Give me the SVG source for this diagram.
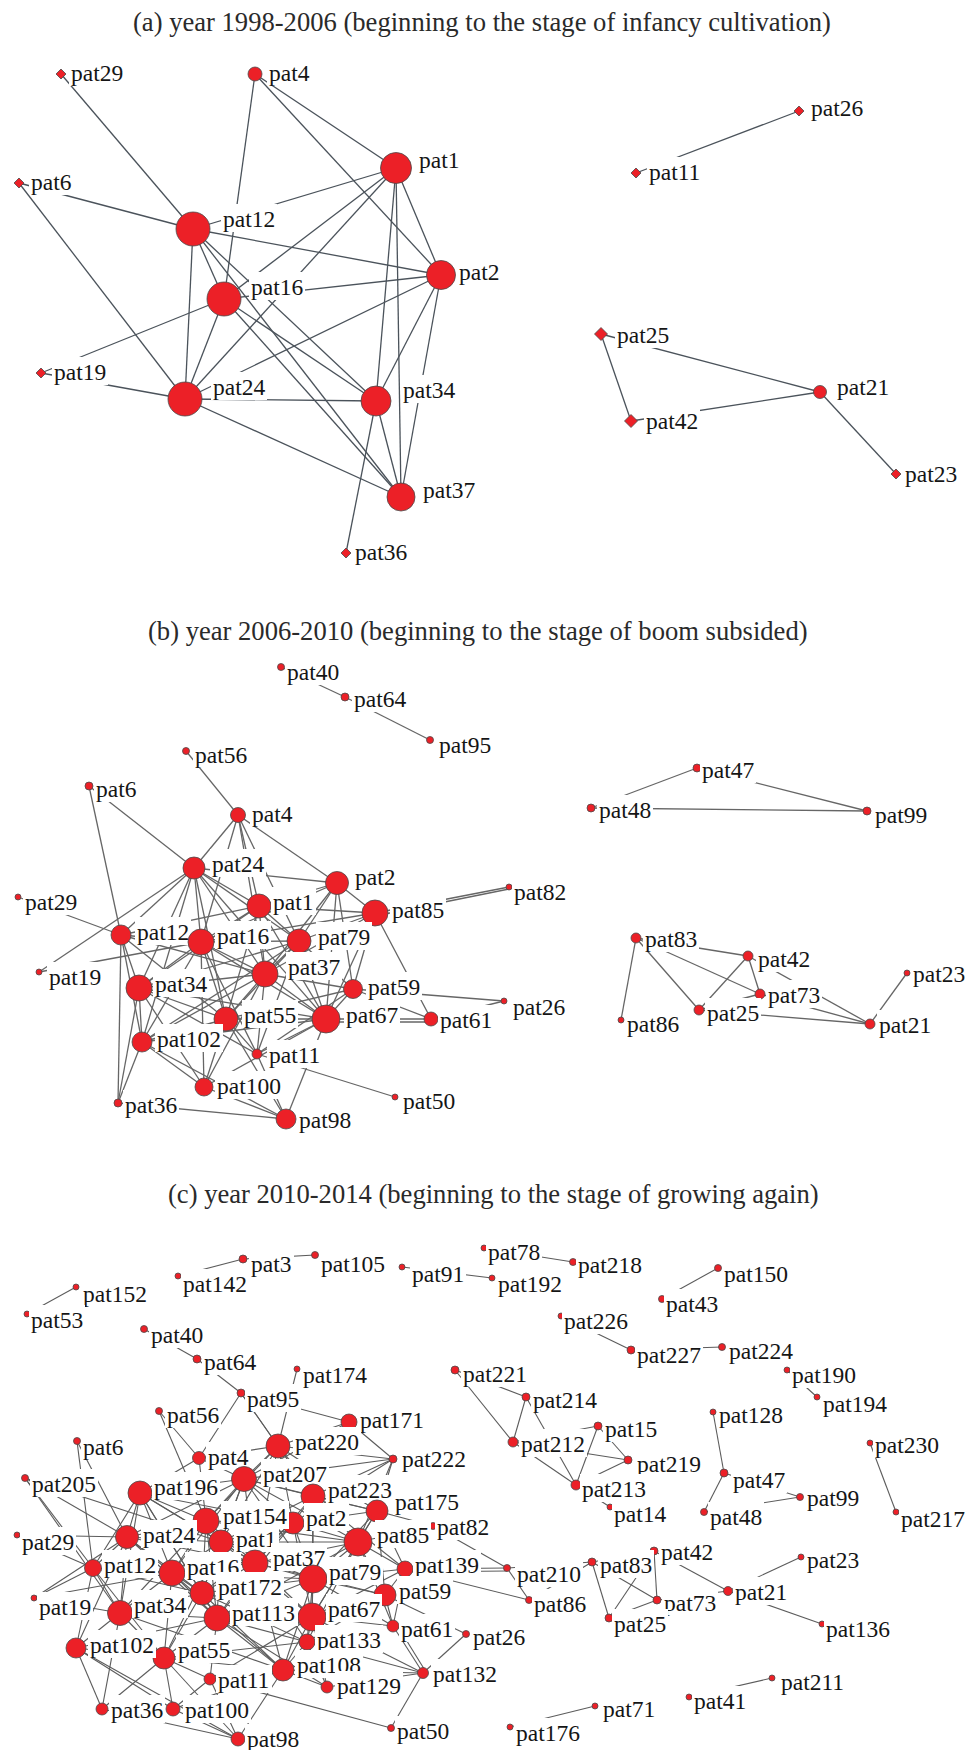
<svg xmlns="http://www.w3.org/2000/svg" xmlns:xlink="http://www.w3.org/1999/xlink" width="968" height="1750" viewBox="0 0 968 1750">
<style>
.n{fill:#ec2027;stroke:#4a4a4a;stroke-width:0.8}
.lb{fill:#fff}
.t{font-family:"Liberation Serif","Times New Roman",serif;font-size:23.5px;fill:#151515}
.ttl{font-family:"Liberation Serif","Times New Roman",serif;font-size:26.6px;fill:#2a2a2a}
.ea path{stroke:#4b535b;stroke-width:1.3;fill:none}
.eb path{stroke:#666;stroke-width:1.3;fill:none}
.ec path{stroke:#5c5c5c;stroke-width:1.1;fill:none}
</style>
<defs>
<polygon id="dm" points="0,-5 5,0 0,5 -5,0"/>
<polygon id="dm6" points="0,-6.5 6.5,0 0,6.5 -6.5,0"/>
</defs>
<rect width="968" height="1750" fill="#fff"/>
<g id="titles">
<text class="ttl" x="133" y="31">(a) year 1998-2006 (beginning to the stage of infancy cultivation)</text>
<text class="ttl" x="148" y="640">(b) year 2006-2010 (beginning to the stage of boom subsided)</text>
<text class="ttl" x="168" y="1203">(c) year 2010-2014 (beginning to the stage of growing again)</text>
</g>
<g id="connectors">
<g id="edges-a" class="ea">
<path d="M61 74L193 229"/><path d="M255 74L224 299"/><path d="M255 74L396 168"/><path d="M255 74L441 275"/>
<path d="M19 183L193 229"/><path d="M19 183L185 399"/><path d="M193 229L396 168"/><path d="M193 229L441 275"/>
<path d="M193 229L224 299"/><path d="M193 229L185 399"/><path d="M193 229L376 401"/><path d="M193 229L401 497"/>
<path d="M396 168L224 299"/><path d="M396 168L185 399"/><path d="M396 168L376 401"/><path d="M396 168L401 497"/>
<path d="M396 168L441 275"/><path d="M441 275L224 299"/><path d="M441 275L185 399"/><path d="M441 275L376 401"/>
<path d="M441 275L401 497"/><path d="M224 299L185 399"/><path d="M224 299L41 373"/><path d="M224 299L376 401"/>
<path d="M224 299L401 497"/><path d="M41 373L185 399"/><path d="M185 399L376 401"/><path d="M185 399L401 497"/>
<path d="M376 401L401 497"/><path d="M376 401L346 553"/>
<path d="M636 173L799 111"/><path d="M601 334L631 421"/><path d="M601 334L820 392"/><path d="M631 421L820 392"/><path d="M820 392L896 474"/>
</g>
<g id="edges-b" class="eb">
<path d="M281 667L345 697"/><path d="M345 697L430 740"/>
<path d="M697 768L591 808"/><path d="M697 768L867 811"/><path d="M591 808L867 811"/>
<path d="M636 938L621 1020"/><path d="M636 938L748 956"/><path d="M636 938L699 1010"/><path d="M636 938L760 994"/>
<path d="M748 956L699 1010"/><path d="M748 956L760 994"/><path d="M748 956L870 1024"/><path d="M760 994L870 1024"/>
<path d="M699 1010L760 994"/><path d="M699 1010L870 1024"/><path d="M870 1024L907 973"/>
<path d="M186 751L238 815"/><path d="M89 786L121 935"/><path d="M89 786L194 868"/>
<path d="M238 815L194 868"/><path d="M238 815L201 942"/><path d="M238 815L259 906"/><path d="M238 815L265 974"/><path d="M238 815L299 941"/><path d="M238 815L337 883"/>
<path d="M18 897L121 935"/><path d="M39 972L194 868"/><path d="M39 972L201 942"/>
<path d="M194 868L121 935"/><path d="M194 868L201 942"/><path d="M194 868L259 906"/><path d="M194 868L337 883"/><path d="M194 868L139 988"/><path d="M194 868L299 941"/><path d="M194 868L265 974"/><path d="M194 868L226 1019"/><path d="M194 868L142 1042"/><path d="M194 868L326 1019"/>
<path d="M337 883L259 906"/><path d="M337 883L375 913"/><path d="M337 883L299 941"/><path d="M337 883L201 942"/><path d="M337 883L265 974"/><path d="M337 883L353 989"/><path d="M337 883L326 1019"/>
<path d="M375 913L509 887"/><path d="M375 916L509 889"/><path d="M375 913L259 906"/><path d="M375 913L299 941"/><path d="M375 913L201 942"/><path d="M375 913L265 974"/><path d="M375 913L353 989"/><path d="M375 913L431 1019"/><path d="M375 913L326 1019"/>
<path d="M259 906L201 942"/><path d="M259 906L121 935"/><path d="M259 906L299 941"/><path d="M259 906L265 974"/><path d="M259 906L139 988"/><path d="M259 906L226 1019"/><path d="M259 906L326 1019"/>
<path d="M121 935L201 942"/><path d="M121 935L139 988"/><path d="M121 935L265 974"/><path d="M121 935L226 1019"/><path d="M121 935L142 1042"/><path d="M121 935L118 1103"/>
<path d="M201 942L299 941"/><path d="M201 942L265 974"/><path d="M201 942L139 988"/><path d="M201 942L226 1019"/><path d="M201 942L326 1019"/><path d="M201 942L142 1042"/><path d="M201 942L204 1087"/>
<path d="M299 941L265 974"/><path d="M299 941L353 989"/><path d="M299 941L326 1019"/><path d="M299 941L226 1019"/><path d="M299 941L139 988"/><path d="M299 941L142 1042"/>
<path d="M265 974L139 988"/><path d="M265 974L226 1019"/><path d="M265 974L326 1019"/><path d="M265 974L353 989"/><path d="M265 974L142 1042"/><path d="M265 974L204 1087"/><path d="M265 974L257 1054"/>
<path d="M139 988L226 1019"/><path d="M139 988L142 1042"/><path d="M139 988L118 1103"/><path d="M139 988L326 1019"/><path d="M139 988L204 1087"/>
<path d="M353 989L326 1019"/><path d="M353 989L431 1019"/><path d="M353 989L504 1001"/><path d="M353 989L226 1019"/>
<path d="M326 1019L431 1019"/><path d="M326 1022L431 1022"/><path d="M326 1019L226 1019"/><path d="M326 1019L257 1054"/><path d="M326 1019L286 1119"/><path d="M326 1019L204 1087"/><path d="M326 1019L142 1042"/>
<path d="M431 1019L504 1001"/><path d="M226 1019L142 1042"/><path d="M226 1019L204 1087"/><path d="M226 1019L257 1054"/><path d="M226 1019L286 1119"/>
<path d="M142 1042L118 1103"/><path d="M142 1042L204 1087"/><path d="M142 1042L286 1119"/><path d="M204 1087L286 1119"/><path d="M257 1054L286 1119"/><path d="M257 1054L395 1097"/><path d="M118 1103L286 1119"/>
<path d="M299 941L257 1054"/><path d="M353 989L257 1054"/><path d="M139 988L257 1054"/><path d="M201 942L257 1054"/>
</g>
<g id="edges-c" class="ec">
<path d="M76 1287L27 1314"/><path d="M178 1276L243 1259"/><path d="M243 1259L315 1255"/><path d="M402 1267L492 1278"/><path d="M484 1248L573 1262"/>
<path d="M718 1268L662 1299"/><path d="M561 1316L631 1350"/><path d="M631 1350L722 1347"/><path d="M787 1370L817 1397"/>
<path d="M455 1370L513 1442"/><path d="M455 1370L526 1397"/><path d="M526 1397L513 1442"/><path d="M526 1397L576 1485"/>
<path d="M513 1442L598 1426"/><path d="M513 1442L628 1460"/><path d="M513 1442L576 1485"/><path d="M598 1426L576 1485"/><path d="M598 1426L628 1460"/><path d="M576 1485L628 1460"/><path d="M576 1485L610 1507"/>
<path d="M713 1412L724 1473"/><path d="M724 1473L704 1512"/><path d="M724 1473L800 1497"/><path d="M704 1512L800 1497"/><path d="M870 1443L896 1512"/>
<path d="M654 1551L592 1562"/><path d="M654 1551L657 1600"/><path d="M654 1551L728 1591"/><path d="M654 1551L609 1618"/>
<path d="M592 1562L609 1618"/><path d="M592 1562L657 1600"/><path d="M592 1562L507 1568"/><path d="M592 1562L529 1600"/>
<path d="M609 1618L657 1600"/><path d="M657 1600L728 1591"/><path d="M728 1591L801 1557"/><path d="M728 1591L822 1624"/>
<path d="M689 1697L772 1678"/><path d="M510 1727L595 1706"/>
<path d="M144 1329L197 1359"/><path d="M197 1359L241 1393"/><path d="M241 1393L199 1458"/><path d="M241 1393L278 1446"/><path d="M241 1393L349 1422"/><path d="M241 1393L313 1496"/>
<path d="M297 1369L278 1446"/><path d="M349 1422L278 1446"/><path d="M349 1422L393 1459"/><path d="M349 1422L244 1479"/>
<path d="M159 1411L199 1458"/><path d="M159 1411L206 1521"/><path d="M77 1441L93 1568"/><path d="M77 1441L127 1537"/>
<path d="M25 1478L93 1568"/><path d="M25 1478L127 1537"/><path d="M25 1478L120 1613"/><path d="M17 1535L93 1568"/><path d="M25 1478L221 1542"/><path d="M17 1535L127 1537"/>
<path d="M34 1598L127 1537"/><path d="M34 1598L172 1573"/><path d="M34 1598L93 1568"/><path d="M34 1598L120 1613"/><path d="M93 1568L76 1648"/><path d="M93 1568L120 1613"/><path d="M127 1537L76 1648"/>
<path d="M76 1648L102 1709"/><path d="M76 1648L173 1709"/><path d="M76 1648L238 1739"/><path d="M102 1709L238 1739"/><path d="M102 1709L120 1613"/><path d="M102 1709L164 1658"/>
<path d="M173 1709L164 1658"/><path d="M173 1709L238 1739"/><path d="M173 1709L210 1679"/><path d="M164 1658L238 1739"/><path d="M283 1670L238 1739"/><path d="M210 1679L238 1739"/>
<path d="M391 1728L210 1679"/><path d="M391 1728L423 1673"/><path d="M423 1673L466 1634"/><path d="M423 1673L393 1626"/><path d="M426 1672L397 1625"/><path d="M423 1673L283 1670"/><path d="M423 1673L327 1687"/><path d="M423 1673L307 1642"/>
<path d="M385 1595L466 1634"/><path d="M385 1595L393 1626"/><path d="M405 1569L507 1568"/><path d="M405 1572L507 1571"/><path d="M405 1569L529 1600"/>
<path d="M433 1526L507 1568"/><path d="M507 1568L529 1600"/><path d="M377 1511L433 1526"/><path d="M358 1542L433 1526"/><path d="M393 1626L312 1617"/><path d="M393 1626L405 1569"/>
<path d="M278 1446L244 1479"/><path d="M278 1446L199 1458"/><path d="M278 1446L313 1496"/><path d="M278 1446L393 1459"/><path d="M278 1446L293 1523"/><path d="M278 1446L377 1511"/><path d="M278 1446L358 1542"/><path d="M278 1446L206 1521"/><path d="M278 1446L255 1563"/><path d="M278 1446L221 1542"/>
<path d="M393 1459L244 1479"/><path d="M393 1459L313 1496"/><path d="M393 1459L377 1511"/><path d="M393 1459L358 1542"/><path d="M393 1459L293 1523"/>
<path d="M199 1458L244 1479"/><path d="M199 1458L140 1493"/><path d="M199 1458L206 1521"/>
<path d="M244 1479L140 1493"/><path d="M244 1479L313 1496"/><path d="M244 1479L206 1521"/><path d="M244 1479L293 1523"/><path d="M244 1479L221 1542"/><path d="M244 1479L255 1563"/><path d="M244 1479L358 1542"/><path d="M244 1479L377 1511"/><path d="M244 1479L127 1537"/><path d="M244 1479L172 1573"/><path d="M244 1479L202 1593"/><path d="M244 1479L313 1579"/>
<path d="M140 1493L206 1521"/><path d="M140 1493L127 1537"/><path d="M140 1493L221 1542"/><path d="M140 1493L172 1573"/><path d="M140 1493L93 1568"/><path d="M140 1493L255 1563"/><path d="M140 1493L293 1523"/><path d="M140 1493L120 1613"/><path d="M140 1493L202 1593"/><path d="M140 1493L217 1618"/>
<path d="M313 1496L293 1523"/><path d="M313 1496L377 1511"/><path d="M313 1496L358 1542"/><path d="M313 1496L255 1563"/><path d="M313 1496L313 1579"/><path d="M313 1496L221 1542"/><path d="M313 1496L312 1617"/><path d="M313 1496L405 1569"/>
<path d="M377 1511L358 1542"/><path d="M377 1511L293 1523"/><path d="M377 1511L313 1579"/><path d="M377 1511L405 1569"/><path d="M377 1511L385 1595"/><path d="M377 1511L312 1617"/>
<path d="M206 1521L127 1537"/><path d="M206 1521L221 1542"/><path d="M206 1521L293 1523"/><path d="M206 1521L172 1573"/><path d="M206 1521L255 1563"/><path d="M206 1521L202 1593"/><path d="M206 1521L358 1542"/><path d="M206 1521L217 1618"/><path d="M206 1521L120 1613"/>
<path d="M293 1523L221 1542"/><path d="M293 1523L358 1542"/><path d="M293 1523L255 1563"/><path d="M293 1523L313 1579"/><path d="M293 1523L312 1617"/><path d="M293 1523L202 1593"/><path d="M293 1523L217 1618"/>
<path d="M127 1537L221 1542"/><path d="M127 1537L93 1568"/><path d="M127 1537L172 1573"/><path d="M127 1537L120 1613"/><path d="M127 1537L202 1593"/><path d="M127 1537L255 1563"/><path d="M127 1537L217 1618"/>
<path d="M221 1542L255 1563"/><path d="M221 1542L172 1573"/><path d="M221 1542L202 1593"/><path d="M221 1542L358 1542"/><path d="M221 1542L313 1579"/><path d="M221 1542L217 1618"/><path d="M221 1542L312 1617"/><path d="M221 1542L164 1658"/>
<path d="M358 1542L255 1563"/><path d="M358 1542L313 1579"/><path d="M358 1542L405 1569"/><path d="M358 1542L385 1595"/><path d="M358 1542L312 1617"/><path d="M358 1542L217 1618"/><path d="M358 1542L307 1642"/><path d="M358 1542L393 1626"/>
<path d="M255 1563L172 1573"/><path d="M255 1563L313 1579"/><path d="M255 1563L202 1593"/><path d="M255 1563L217 1618"/><path d="M255 1563L312 1617"/><path d="M255 1563L385 1595"/><path d="M255 1563L283 1670"/><path d="M255 1563L307 1642"/>
<path d="M93 1568L172 1573"/><path d="M93 1568L202 1593"/><path d="M93 1568L164 1658"/><path d="M172 1573L202 1593"/><path d="M172 1573L120 1613"/><path d="M172 1573L217 1618"/><path d="M172 1573L164 1658"/><path d="M172 1573L313 1579"/><path d="M172 1573L283 1670"/>
<path d="M313 1579L405 1569"/><path d="M313 1579L385 1595"/><path d="M313 1579L312 1617"/><path d="M313 1579L202 1593"/><path d="M313 1579L217 1618"/><path d="M313 1579L307 1642"/><path d="M313 1579L283 1670"/><path d="M313 1579L393 1626"/>
<path d="M405 1569L385 1595"/><path d="M405 1569L312 1617"/><path d="M202 1593L217 1618"/><path d="M202 1593L120 1613"/><path d="M202 1593L312 1617"/><path d="M202 1593L164 1658"/><path d="M202 1593L283 1670"/><path d="M202 1593L307 1642"/>
<path d="M385 1595L312 1617"/><path d="M385 1595L307 1642"/><path d="M120 1613L217 1618"/><path d="M120 1613L164 1658"/><path d="M120 1613L76 1648"/><path d="M120 1613L283 1670"/>
<path d="M217 1618L312 1617"/><path d="M217 1618L164 1658"/><path d="M217 1618L283 1670"/><path d="M217 1618L307 1642"/><path d="M217 1618L210 1679"/><path d="M217 1618L76 1648"/><path d="M217 1618L327 1687"/>
<path d="M312 1617L307 1642"/><path d="M312 1617L283 1670"/><path d="M312 1617L327 1687"/><path d="M312 1617L210 1679"/><path d="M312 1617L423 1673"/><path d="M307 1642L283 1670"/><path d="M307 1642L327 1687"/><path d="M76 1648L164 1658"/>
<path d="M164 1658L283 1670"/><path d="M164 1658L210 1679"/><path d="M164 1658L307 1642"/><path d="M283 1670L210 1679"/><path d="M283 1670L327 1687"/><path d="M283 1670L173 1709"/>
</g>
</g>
<g id="nodes-a">
<g id="a-pat29"><use href="#dm" x="61" y="74" class="n"/><rect class="lb" x="69" y="58" width="56" height="28"/><text class="t" x="71" y="81">pat29</text></g>
<g id="a-pat4"><circle class="n" cx="255" cy="74" r="7"/><rect class="lb" x="267" y="58" width="45" height="28"/><text class="t" x="269" y="81">pat4</text></g>
<g id="a-pat26"><use href="#dm" x="799" y="111" class="n"/><rect class="lb" x="809" y="93" width="56" height="28"/><text class="t" x="811" y="116">pat26</text></g>
<g id="a-pat1"><circle class="n" cx="396" cy="168" r="15.5"/><rect class="lb" x="417" y="145" width="45" height="28"/><text class="t" x="419" y="168">pat1</text></g>
<g id="a-pat11"><use href="#dm" x="636" y="173" class="n"/><rect class="lb" x="647" y="157" width="56" height="28"/><text class="t" x="649" y="180">pat11</text></g>
<g id="a-pat6"><use href="#dm" x="19" y="183" class="n"/><rect class="lb" x="29" y="167" width="45" height="28"/><text class="t" x="31" y="190">pat6</text></g>
<g id="a-pat12"><circle class="n" cx="193" cy="229" r="17"/><rect class="lb" x="221" y="204" width="56" height="28"/><text class="t" x="223" y="227">pat12</text></g>
<g id="a-pat2"><circle class="n" cx="441" cy="275" r="14.5"/><rect class="lb" x="457" y="257" width="45" height="28"/><text class="t" x="459" y="280">pat2</text></g>
<g id="a-pat16"><circle class="n" cx="224" cy="299" r="17"/><rect class="lb" x="249" y="272" width="56" height="28"/><text class="t" x="251" y="295">pat16</text></g>
<g id="a-pat25"><use href="#dm6" x="601" y="334" class="n"/><rect class="lb" x="615" y="320" width="56" height="28"/><text class="t" x="617" y="343">pat25</text></g>
<g id="a-pat19"><use href="#dm" x="41" y="373" class="n"/><rect class="lb" x="52" y="357" width="56" height="28"/><text class="t" x="54" y="380">pat19</text></g>
<g id="a-pat21"><circle class="n" cx="820" cy="392" r="6.5"/><rect class="lb" x="835" y="372" width="56" height="28"/><text class="t" x="837" y="395">pat21</text></g>
<g id="a-pat24"><circle class="n" cx="185" cy="399" r="17"/><rect class="lb" x="211" y="372" width="56" height="28"/><text class="t" x="213" y="395">pat24</text></g>
<g id="a-pat34"><circle class="n" cx="376" cy="401" r="15"/><rect class="lb" x="401" y="375" width="56" height="28"/><text class="t" x="403" y="398">pat34</text></g>
<g id="a-pat42"><use href="#dm6" x="631" y="421" class="n"/><rect class="lb" x="644" y="406" width="56" height="28"/><text class="t" x="646" y="429">pat42</text></g>
<g id="a-pat23"><use href="#dm" x="896" y="474" class="n"/><rect class="lb" x="903" y="459" width="56" height="28"/><text class="t" x="905" y="482">pat23</text></g>
<g id="a-pat37"><circle class="n" cx="401" cy="497" r="14"/><rect class="lb" x="421" y="475" width="56" height="28"/><text class="t" x="423" y="498">pat37</text></g>
<g id="a-pat36"><use href="#dm" x="346" y="553" class="n"/><rect class="lb" x="353" y="537" width="56" height="28"/><text class="t" x="355" y="560">pat36</text></g>
</g>
<g id="nodes-b">
<g id="b-pat40"><circle class="n" cx="281" cy="667" r="3.5"/><rect class="lb" x="285" y="657" width="56" height="28"/><text class="t" x="287" y="680">pat40</text></g>
<g id="b-pat64"><circle class="n" cx="345" cy="697" r="4"/><rect class="lb" x="352" y="684" width="56" height="28"/><text class="t" x="354" y="707">pat64</text></g>
<g id="b-pat95"><circle class="n" cx="430" cy="740" r="3.5"/><rect class="lb" x="437" y="730" width="56" height="28"/><text class="t" x="439" y="753">pat95</text></g>
<g id="b-pat56"><circle class="n" cx="186" cy="751" r="3.5"/><rect class="lb" x="193" y="740" width="56" height="28"/><text class="t" x="195" y="763">pat56</text></g>
<g id="b-pat47"><circle class="n" cx="697" cy="768" r="4"/><rect class="lb" x="700" y="755" width="56" height="28"/><text class="t" x="702" y="778">pat47</text></g>
<g id="b-pat6"><circle class="n" cx="89" cy="786" r="4"/><rect class="lb" x="94" y="774" width="45" height="28"/><text class="t" x="96" y="797">pat6</text></g>
<g id="b-pat48"><circle class="n" cx="591" cy="808" r="4"/><rect class="lb" x="597" y="795" width="56" height="28"/><text class="t" x="599" y="818">pat48</text></g>
<g id="b-pat99"><circle class="n" cx="867" cy="811" r="4"/><rect class="lb" x="873" y="800" width="56" height="28"/><text class="t" x="875" y="823">pat99</text></g>
<g id="b-pat4"><circle class="n" cx="238" cy="815" r="7.5"/><rect class="lb" x="250" y="799" width="45" height="28"/><text class="t" x="252" y="822">pat4</text></g>
<g id="b-pat24"><circle class="n" cx="194" cy="868" r="11"/><rect class="lb" x="210" y="849" width="56" height="28"/><text class="t" x="212" y="872">pat24</text></g>
<g id="b-pat2"><circle class="n" cx="337" cy="883" r="11.5"/><rect class="lb" x="353" y="862" width="45" height="28"/><text class="t" x="355" y="885">pat2</text></g>
<g id="b-pat82"><circle class="n" cx="509" cy="887" r="3"/><rect class="lb" x="512" y="877" width="56" height="28"/><text class="t" x="514" y="900">pat82</text></g>
<g id="b-pat29"><circle class="n" cx="18" cy="897" r="3"/><rect class="lb" x="23" y="887" width="56" height="28"/><text class="t" x="25" y="910">pat29</text></g>
<g id="b-pat1"><circle class="n" cx="259" cy="906" r="12"/><rect class="lb" x="271" y="887" width="45" height="28"/><text class="t" x="273" y="910">pat1</text></g>
<g id="b-pat85"><circle class="n" cx="375" cy="913" r="13"/><rect class="lb" x="390" y="895" width="56" height="28"/><text class="t" x="392" y="918">pat85</text></g>
<g id="b-pat12"><circle class="n" cx="121" cy="935" r="10"/><rect class="lb" x="135" y="917" width="56" height="28"/><text class="t" x="137" y="940">pat12</text></g>
<g id="b-pat83"><circle class="n" cx="636" cy="938" r="5"/><rect class="lb" x="643" y="924" width="56" height="28"/><text class="t" x="645" y="947">pat83</text></g>
<g id="b-pat79"><circle class="n" cx="299" cy="941" r="12"/><rect class="lb" x="316" y="922" width="56" height="28"/><text class="t" x="318" y="945">pat79</text></g>
<g id="b-pat16"><circle class="n" cx="201" cy="942" r="13"/><rect class="lb" x="215" y="921" width="56" height="28"/><text class="t" x="217" y="944">pat16</text></g>
<g id="b-pat42"><circle class="n" cx="748" cy="956" r="5"/><rect class="lb" x="756" y="944" width="56" height="28"/><text class="t" x="758" y="967">pat42</text></g>
<g id="b-pat19"><circle class="n" cx="39" cy="972" r="3"/><rect class="lb" x="47" y="962" width="56" height="28"/><text class="t" x="49" y="985">pat19</text></g>
<g id="b-pat23"><circle class="n" cx="907" cy="973" r="3"/><rect class="lb" x="911" y="959" width="56" height="28"/><text class="t" x="913" y="982">pat23</text></g>
<g id="b-pat37"><circle class="n" cx="265" cy="974" r="13"/><rect class="lb" x="286" y="952" width="56" height="28"/><text class="t" x="288" y="975">pat37</text></g>
<g id="b-pat34"><circle class="n" cx="139" cy="988" r="13"/><rect class="lb" x="153" y="969" width="56" height="28"/><text class="t" x="155" y="992">pat34</text></g>
<g id="b-pat59"><circle class="n" cx="353" cy="989" r="9.5"/><rect class="lb" x="366" y="972" width="56" height="28"/><text class="t" x="368" y="995">pat59</text></g>
<g id="b-pat73"><circle class="n" cx="760" cy="994" r="5"/><rect class="lb" x="766" y="980" width="56" height="28"/><text class="t" x="768" y="1003">pat73</text></g>
<g id="b-pat26"><circle class="n" cx="504" cy="1001" r="3"/><rect class="lb" x="511" y="992" width="56" height="28"/><text class="t" x="513" y="1015">pat26</text></g>
<g id="b-pat25"><circle class="n" cx="699" cy="1010" r="5"/><rect class="lb" x="705" y="998" width="56" height="28"/><text class="t" x="707" y="1021">pat25</text></g>
<g id="b-pat55"><circle class="n" cx="226" cy="1019" r="12"/><rect class="lb" x="242" y="1000" width="56" height="28"/><text class="t" x="244" y="1023">pat55</text></g>
<g id="b-pat67"><circle class="n" cx="326" cy="1019" r="14"/><rect class="lb" x="344" y="1000" width="56" height="28"/><text class="t" x="346" y="1023">pat67</text></g>
<g id="b-pat61"><circle class="n" cx="431" cy="1019" r="7"/><rect class="lb" x="438" y="1005" width="56" height="28"/><text class="t" x="440" y="1028">pat61</text></g>
<g id="b-pat86"><circle class="n" cx="621" cy="1020" r="3"/><rect class="lb" x="625" y="1009" width="56" height="28"/><text class="t" x="627" y="1032">pat86</text></g>
<g id="b-pat21"><circle class="n" cx="870" cy="1024" r="5"/><rect class="lb" x="877" y="1010" width="56" height="28"/><text class="t" x="879" y="1033">pat21</text></g>
<g id="b-pat102"><circle class="n" cx="142" cy="1042" r="10"/><rect class="lb" x="155" y="1024" width="68" height="28"/><text class="t" x="157" y="1047">pat102</text></g>
<g id="b-pat11"><circle class="n" cx="257" cy="1054" r="5"/><rect class="lb" x="267" y="1040" width="56" height="28"/><text class="t" x="269" y="1063">pat11</text></g>
<g id="b-pat100"><circle class="n" cx="204" cy="1087" r="9"/><rect class="lb" x="215" y="1071" width="68" height="28"/><text class="t" x="217" y="1094">pat100</text></g>
<g id="b-pat50"><circle class="n" cx="395" cy="1097" r="3"/><rect class="lb" x="401" y="1086" width="56" height="28"/><text class="t" x="403" y="1109">pat50</text></g>
<g id="b-pat36"><circle class="n" cx="118" cy="1103" r="4"/><rect class="lb" x="123" y="1090" width="56" height="28"/><text class="t" x="125" y="1113">pat36</text></g>
<g id="b-pat98"><circle class="n" cx="286" cy="1119" r="10"/><rect class="lb" x="297" y="1105" width="56" height="28"/><text class="t" x="299" y="1128">pat98</text></g>
</g>
<g id="nodes-c">
<g id="c-pat78"><circle class="n" cx="484" cy="1248" r="3"/><rect class="lb" x="486" y="1237" width="56" height="28"/><text class="t" x="488" y="1260">pat78</text></g>
<g id="c-pat105"><circle class="n" cx="315" cy="1255" r="3.5"/><rect class="lb" x="319" y="1249" width="68" height="28"/><text class="t" x="321" y="1272">pat105</text></g>
<g id="c-pat3"><circle class="n" cx="243" cy="1259" r="4"/><rect class="lb" x="249" y="1249" width="45" height="28"/><text class="t" x="251" y="1272">pat3</text></g>
<g id="c-pat218"><circle class="n" cx="573" cy="1262" r="3.5"/><rect class="lb" x="576" y="1250" width="68" height="28"/><text class="t" x="578" y="1273">pat218</text></g>
<g id="c-pat91"><circle class="n" cx="402" cy="1267" r="3"/><rect class="lb" x="410" y="1259" width="56" height="28"/><text class="t" x="412" y="1282">pat91</text></g>
<g id="c-pat150"><circle class="n" cx="718" cy="1268" r="3.5"/><rect class="lb" x="722" y="1259" width="68" height="28"/><text class="t" x="724" y="1282">pat150</text></g>
<g id="c-pat142"><circle class="n" cx="178" cy="1276" r="3"/><rect class="lb" x="181" y="1269" width="68" height="28"/><text class="t" x="183" y="1292">pat142</text></g>
<g id="c-pat192"><circle class="n" cx="492" cy="1278" r="3"/><rect class="lb" x="496" y="1269" width="68" height="28"/><text class="t" x="498" y="1292">pat192</text></g>
<g id="c-pat152"><circle class="n" cx="76" cy="1287" r="3"/><rect class="lb" x="81" y="1279" width="68" height="28"/><text class="t" x="83" y="1302">pat152</text></g>
<g id="c-pat43"><circle class="n" cx="662" cy="1299" r="3.5"/><rect class="lb" x="664" y="1289" width="56" height="28"/><text class="t" x="666" y="1312">pat43</text></g>
<g id="c-pat53"><circle class="n" cx="27" cy="1314" r="3"/><rect class="lb" x="29" y="1305" width="56" height="28"/><text class="t" x="31" y="1328">pat53</text></g>
<g id="c-pat226"><circle class="n" cx="561" cy="1316" r="3"/><rect class="lb" x="562" y="1306" width="68" height="28"/><text class="t" x="564" y="1329">pat226</text></g>
<g id="c-pat40"><circle class="n" cx="144" cy="1329" r="3.5"/><rect class="lb" x="149" y="1320" width="56" height="28"/><text class="t" x="151" y="1343">pat40</text></g>
<g id="c-pat224"><circle class="n" cx="722" cy="1347" r="3.5"/><rect class="lb" x="727" y="1336" width="68" height="28"/><text class="t" x="729" y="1359">pat224</text></g>
<g id="c-pat227"><circle class="n" cx="631" cy="1350" r="4"/><rect class="lb" x="635" y="1340" width="68" height="28"/><text class="t" x="637" y="1363">pat227</text></g>
<g id="c-pat64"><circle class="n" cx="197" cy="1359" r="4"/><rect class="lb" x="202" y="1347" width="56" height="28"/><text class="t" x="204" y="1370">pat64</text></g>
<g id="c-pat174"><circle class="n" cx="297" cy="1369" r="3"/><rect class="lb" x="301" y="1360" width="68" height="28"/><text class="t" x="303" y="1383">pat174</text></g>
<g id="c-pat190"><circle class="n" cx="787" cy="1370" r="3"/><rect class="lb" x="790" y="1360" width="68" height="28"/><text class="t" x="792" y="1383">pat190</text></g>
<g id="c-pat221"><circle class="n" cx="455" cy="1370" r="4"/><rect class="lb" x="461" y="1359" width="68" height="28"/><text class="t" x="463" y="1382">pat221</text></g>
<g id="c-pat95"><circle class="n" cx="241" cy="1393" r="4"/><rect class="lb" x="245" y="1384" width="56" height="28"/><text class="t" x="247" y="1407">pat95</text></g>
<g id="c-pat194"><circle class="n" cx="817" cy="1397" r="3"/><rect class="lb" x="821" y="1389" width="68" height="28"/><text class="t" x="823" y="1412">pat194</text></g>
<g id="c-pat214"><circle class="n" cx="526" cy="1397" r="4"/><rect class="lb" x="531" y="1385" width="68" height="28"/><text class="t" x="533" y="1408">pat214</text></g>
<g id="c-pat56"><circle class="n" cx="159" cy="1411" r="3.5"/><rect class="lb" x="165" y="1400" width="56" height="28"/><text class="t" x="167" y="1423">pat56</text></g>
<g id="c-pat128"><circle class="n" cx="713" cy="1412" r="3"/><rect class="lb" x="717" y="1400" width="68" height="28"/><text class="t" x="719" y="1423">pat128</text></g>
<g id="c-pat171"><circle class="n" cx="349" cy="1422" r="8"/><rect class="lb" x="358" y="1405" width="68" height="28"/><text class="t" x="360" y="1428">pat171</text></g>
<g id="c-pat15"><circle class="n" cx="598" cy="1426" r="4"/><rect class="lb" x="603" y="1414" width="56" height="28"/><text class="t" x="605" y="1437">pat15</text></g>
<g id="c-pat6"><circle class="n" cx="77" cy="1441" r="3.5"/><rect class="lb" x="81" y="1432" width="45" height="28"/><text class="t" x="83" y="1455">pat6</text></g>
<g id="c-pat212"><circle class="n" cx="513" cy="1442" r="5"/><rect class="lb" x="519" y="1429" width="68" height="28"/><text class="t" x="521" y="1452">pat212</text></g>
<g id="c-pat230"><circle class="n" cx="870" cy="1443" r="3"/><rect class="lb" x="873" y="1430" width="68" height="28"/><text class="t" x="875" y="1453">pat230</text></g>
<g id="c-pat220"><circle class="n" cx="278" cy="1446" r="12"/><rect class="lb" x="293" y="1427" width="68" height="28"/><text class="t" x="295" y="1450">pat220</text></g>
<g id="c-pat4"><circle class="n" cx="199" cy="1458" r="6.5"/><rect class="lb" x="206" y="1442" width="45" height="28"/><text class="t" x="208" y="1465">pat4</text></g>
<g id="c-pat222"><circle class="n" cx="393" cy="1459" r="4"/><rect class="lb" x="400" y="1444" width="68" height="28"/><text class="t" x="402" y="1467">pat222</text></g>
<g id="c-pat219"><circle class="n" cx="628" cy="1460" r="4"/><rect class="lb" x="635" y="1449" width="68" height="28"/><text class="t" x="637" y="1472">pat219</text></g>
<g id="c-pat47"><circle class="n" cx="724" cy="1473" r="4"/><rect class="lb" x="731" y="1465" width="56" height="28"/><text class="t" x="733" y="1488">pat47</text></g>
<g id="c-pat205"><circle class="n" cx="25" cy="1478" r="3.5"/><rect class="lb" x="30" y="1469" width="68" height="28"/><text class="t" x="32" y="1492">pat205</text></g>
<g id="c-pat207"><circle class="n" cx="244" cy="1479" r="12.5"/><rect class="lb" x="261" y="1459" width="68" height="28"/><text class="t" x="263" y="1482">pat207</text></g>
<g id="c-pat213"><circle class="n" cx="576" cy="1485" r="5"/><rect class="lb" x="580" y="1474" width="68" height="28"/><text class="t" x="582" y="1497">pat213</text></g>
<g id="c-pat196"><circle class="n" cx="140" cy="1493" r="12"/><rect class="lb" x="152" y="1472" width="68" height="28"/><text class="t" x="154" y="1495">pat196</text></g>
<g id="c-pat223"><circle class="n" cx="313" cy="1496" r="12"/><rect class="lb" x="326" y="1475" width="68" height="28"/><text class="t" x="328" y="1498">pat223</text></g>
<g id="c-pat99"><circle class="n" cx="800" cy="1497" r="3.5"/><rect class="lb" x="805" y="1483" width="56" height="28"/><text class="t" x="807" y="1506">pat99</text></g>
<g id="c-pat14"><circle class="n" cx="610" cy="1507" r="3"/><rect class="lb" x="612" y="1499" width="56" height="28"/><text class="t" x="614" y="1522">pat14</text></g>
<g id="c-pat175"><circle class="n" cx="377" cy="1511" r="11"/><rect class="lb" x="393" y="1487" width="68" height="28"/><text class="t" x="395" y="1510">pat175</text></g>
<g id="c-pat48"><circle class="n" cx="704" cy="1512" r="3.5"/><rect class="lb" x="708" y="1502" width="56" height="28"/><text class="t" x="710" y="1525">pat48</text></g>
<g id="c-pat217"><circle class="n" cx="896" cy="1512" r="3"/><rect class="lb" x="899" y="1504" width="68" height="28"/><text class="t" x="901" y="1527">pat217</text></g>
<g id="c-pat2"><circle class="n" cx="293" cy="1523" r="11"/><rect class="lb" x="304" y="1503" width="45" height="28"/><text class="t" x="306" y="1526">pat2</text></g>
<g id="c-pat154"><circle class="n" cx="206" cy="1521" r="13"/><rect class="lb" x="221" y="1501" width="68" height="28"/><text class="t" x="223" y="1524">pat154</text></g>
<g id="c-pat82"><circle class="n" cx="433" cy="1526" r="3.5"/><rect class="lb" x="435" y="1512" width="56" height="28"/><text class="t" x="437" y="1535">pat82</text></g>
<g id="c-pat29"><circle class="n" cx="17" cy="1535" r="3"/><rect class="lb" x="20" y="1527" width="56" height="28"/><text class="t" x="22" y="1550">pat29</text></g>
<g id="c-pat24"><circle class="n" cx="127" cy="1537" r="11.5"/><rect class="lb" x="141" y="1520" width="56" height="28"/><text class="t" x="143" y="1543">pat24</text></g>
<g id="c-pat1"><circle class="n" cx="221" cy="1542" r="12"/><rect class="lb" x="234" y="1524" width="45" height="28"/><text class="t" x="236" y="1547">pat1</text></g>
<g id="c-pat85"><circle class="n" cx="358" cy="1542" r="14"/><rect class="lb" x="375" y="1520" width="56" height="28"/><text class="t" x="377" y="1543">pat85</text></g>
<g id="c-pat42"><circle class="n" cx="654" cy="1551" r="4"/><rect class="lb" x="659" y="1537" width="56" height="28"/><text class="t" x="661" y="1560">pat42</text></g>
<g id="c-pat23"><circle class="n" cx="801" cy="1557" r="3"/><rect class="lb" x="805" y="1545" width="56" height="28"/><text class="t" x="807" y="1568">pat23</text></g>
<g id="c-pat83"><circle class="n" cx="592" cy="1562" r="4"/><rect class="lb" x="598" y="1550" width="56" height="28"/><text class="t" x="600" y="1573">pat83</text></g>
<g id="c-pat37"><circle class="n" cx="255" cy="1563" r="13"/><rect class="lb" x="271" y="1543" width="56" height="28"/><text class="t" x="273" y="1566">pat37</text></g>
<g id="c-pat12"><circle class="n" cx="93" cy="1568" r="8.5"/><rect class="lb" x="102" y="1550" width="56" height="28"/><text class="t" x="104" y="1573">pat12</text></g>
<g id="c-pat210"><circle class="n" cx="507" cy="1568" r="3.5"/><rect class="lb" x="515" y="1559" width="68" height="28"/><text class="t" x="517" y="1582">pat210</text></g>
<g id="c-pat139"><circle class="n" cx="405" cy="1569" r="8"/><rect class="lb" x="413" y="1550" width="68" height="28"/><text class="t" x="415" y="1573">pat139</text></g>
<g id="c-pat16"><circle class="n" cx="172" cy="1573" r="13"/><rect class="lb" x="185" y="1552" width="56" height="28"/><text class="t" x="187" y="1575">pat16</text></g>
<g id="c-pat79"><circle class="n" cx="313" cy="1579" r="14"/><rect class="lb" x="327" y="1557" width="56" height="28"/><text class="t" x="329" y="1580">pat79</text></g>
<g id="c-pat21"><circle class="n" cx="728" cy="1591" r="4.5"/><rect class="lb" x="733" y="1577" width="56" height="28"/><text class="t" x="735" y="1600">pat21</text></g>
<g id="c-pat172"><circle class="n" cx="202" cy="1593" r="12"/><rect class="lb" x="216" y="1572" width="68" height="28"/><text class="t" x="218" y="1595">pat172</text></g>
<g id="c-pat59"><circle class="n" cx="385" cy="1595" r="11"/><rect class="lb" x="397" y="1576" width="56" height="28"/><text class="t" x="399" y="1599">pat59</text></g>
<g id="c-pat19"><circle class="n" cx="34" cy="1598" r="3"/><rect class="lb" x="37" y="1592" width="56" height="28"/><text class="t" x="39" y="1615">pat19</text></g>
<g id="c-pat86"><circle class="n" cx="529" cy="1600" r="3.5"/><rect class="lb" x="532" y="1589" width="56" height="28"/><text class="t" x="534" y="1612">pat86</text></g>
<g id="c-pat73"><circle class="n" cx="657" cy="1600" r="4"/><rect class="lb" x="662" y="1588" width="56" height="28"/><text class="t" x="664" y="1611">pat73</text></g>
<g id="c-pat34"><circle class="n" cx="120" cy="1613" r="12.5"/><rect class="lb" x="132" y="1590" width="56" height="28"/><text class="t" x="134" y="1613">pat34</text></g>
<g id="c-pat67"><circle class="n" cx="312" cy="1617" r="14"/><rect class="lb" x="326" y="1594" width="56" height="28"/><text class="t" x="328" y="1617">pat67</text></g>
<g id="c-pat113"><circle class="n" cx="217" cy="1618" r="13"/><rect class="lb" x="230" y="1598" width="68" height="28"/><text class="t" x="232" y="1621">pat113</text></g>
<g id="c-pat25"><circle class="n" cx="609" cy="1618" r="4"/><rect class="lb" x="612" y="1609" width="56" height="28"/><text class="t" x="614" y="1632">pat25</text></g>
<g id="c-pat136"><circle class="n" cx="822" cy="1624" r="3"/><rect class="lb" x="824" y="1614" width="68" height="28"/><text class="t" x="826" y="1637">pat136</text></g>
<g id="c-pat61"><circle class="n" cx="393" cy="1626" r="6"/><rect class="lb" x="399" y="1614" width="56" height="28"/><text class="t" x="401" y="1637">pat61</text></g>
<g id="c-pat26"><circle class="n" cx="466" cy="1634" r="3.5"/><rect class="lb" x="471" y="1622" width="56" height="28"/><text class="t" x="473" y="1645">pat26</text></g>
<g id="c-pat133"><circle class="n" cx="307" cy="1642" r="8"/><rect class="lb" x="315" y="1625" width="68" height="28"/><text class="t" x="317" y="1648">pat133</text></g>
<g id="c-pat55"><circle class="n" cx="164" cy="1658" r="11"/><rect class="lb" x="176" y="1635" width="56" height="28"/><text class="t" x="178" y="1658">pat55</text></g>
<g id="c-pat102"><circle class="n" cx="76" cy="1648" r="10"/><rect class="lb" x="88" y="1630" width="68" height="28"/><text class="t" x="90" y="1653">pat102</text></g>
<g id="c-pat108"><circle class="n" cx="283" cy="1670" r="11"/><rect class="lb" x="295" y="1650" width="68" height="28"/><text class="t" x="297" y="1673">pat108</text></g>
<g id="c-pat132"><circle class="n" cx="423" cy="1673" r="5.5"/><rect class="lb" x="431" y="1659" width="68" height="28"/><text class="t" x="433" y="1682">pat132</text></g>
<g id="c-pat211"><circle class="n" cx="772" cy="1678" r="3"/><rect class="lb" x="779" y="1667" width="68" height="28"/><text class="t" x="781" y="1690">pat211</text></g>
<g id="c-pat11"><circle class="n" cx="210" cy="1679" r="6"/><rect class="lb" x="216" y="1665" width="56" height="28"/><text class="t" x="218" y="1688">pat11</text></g>
<g id="c-pat129"><circle class="n" cx="327" cy="1687" r="6"/><rect class="lb" x="335" y="1671" width="68" height="28"/><text class="t" x="337" y="1694">pat129</text></g>
<g id="c-pat41"><circle class="n" cx="689" cy="1697" r="3"/><rect class="lb" x="692" y="1686" width="56" height="28"/><text class="t" x="694" y="1709">pat41</text></g>
<g id="c-pat71"><circle class="n" cx="595" cy="1706" r="3"/><rect class="lb" x="601" y="1694" width="56" height="28"/><text class="t" x="603" y="1717">pat71</text></g>
<g id="c-pat36"><circle class="n" cx="102" cy="1709" r="6"/><rect class="lb" x="109" y="1695" width="56" height="28"/><text class="t" x="111" y="1718">pat36</text></g>
<g id="c-pat100"><circle class="n" cx="173" cy="1709" r="7"/><rect class="lb" x="183" y="1695" width="68" height="28"/><text class="t" x="185" y="1718">pat100</text></g>
<g id="c-pat50"><circle class="n" cx="391" cy="1728" r="3.5"/><rect class="lb" x="395" y="1716" width="56" height="28"/><text class="t" x="397" y="1739">pat50</text></g>
<g id="c-pat176"><circle class="n" cx="510" cy="1727" r="3"/><rect class="lb" x="514" y="1718" width="68" height="28"/><text class="t" x="516" y="1741">pat176</text></g>
<g id="c-pat98"><circle class="n" cx="238" cy="1739" r="7"/><rect class="lb" x="245" y="1724" width="56" height="26"/><text class="t" x="247" y="1747">pat98</text></g>
</g>
</svg>
